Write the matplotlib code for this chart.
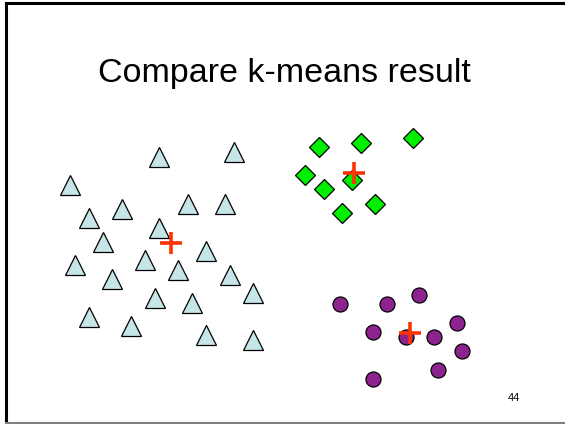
import matplotlib
matplotlib.use("Agg")
import matplotlib.pyplot as plt

# cluster 1 - triangles (pixel coords of the slide)
tri_x = [159, 234, 70, 122, 188, 225, 89, 159, 103, 206, 75, 145, 178, 230, 112, 253, 155, 192, 89, 131, 206, 253]
tri_y = [157, 152, 185, 209, 204, 204, 218, 228, 242, 251, 265, 260, 270, 275, 279, 293, 298, 303, 317, 326, 335, 340]

# cluster 2 - diamonds
dia_x = [319, 361, 413, 305, 324, 352, 375, 342]
dia_y = [147, 143, 138, 175, 189, 180, 204, 213]

# cluster 3 - circles
cir_x = [340, 387, 419, 457, 373, 406, 434, 462, 438, 373]
cir_y = [304, 304, 295, 323, 332, 337, 337, 351, 370, 379]

# centroids found by k-means
cen_x = [171, 354, 410]
cen_y = [243, 173, 333]

fig = plt.figure(figsize=(5.65, 4.24), dpi=100)
ax = fig.add_axes([0, 0, 1, 1])
ax.set_xlim(0, 565)
ax.set_ylim(424, 0)
ax.axis('off')

# slide frame
ax.plot([5.5, 5.5], [2.5, 424], color='black', lw=2.2)
ax.plot([5.5, 565], [2.5, 2.5], color='black', lw=2.2)
ax.plot([5.5, 565], [422.5, 422.5], color='#808080', lw=1.5)

ax.text(284, 82, 'Compare k-means result', fontsize=24.5, family='Liberation Sans',
        ha='center', va='baseline')
ax.text(514, 401, '44', fontsize=8, family='Liberation Sans', ha='center', va='baseline')

ax.plot(tri_x, tri_y, '^', ms=13.7, mfc='#c6e5e8', mec='black', mew=0.9, ls='none')
ax.plot(dia_x, dia_y, 'D', ms=9.7, mfc='#00ee00', mec='black', mew=0.9, ls='none')
ax.plot(cir_x, cir_y, 'o', ms=10.8, mfc='#8e2390', mec='black', mew=0.9, ls='none')
ax.plot(cen_x, cen_y, '+', ms=16.5, mec='#ff3300', mew=2.6, ls='none')

fig.savefig('out.png', dpi=100)
